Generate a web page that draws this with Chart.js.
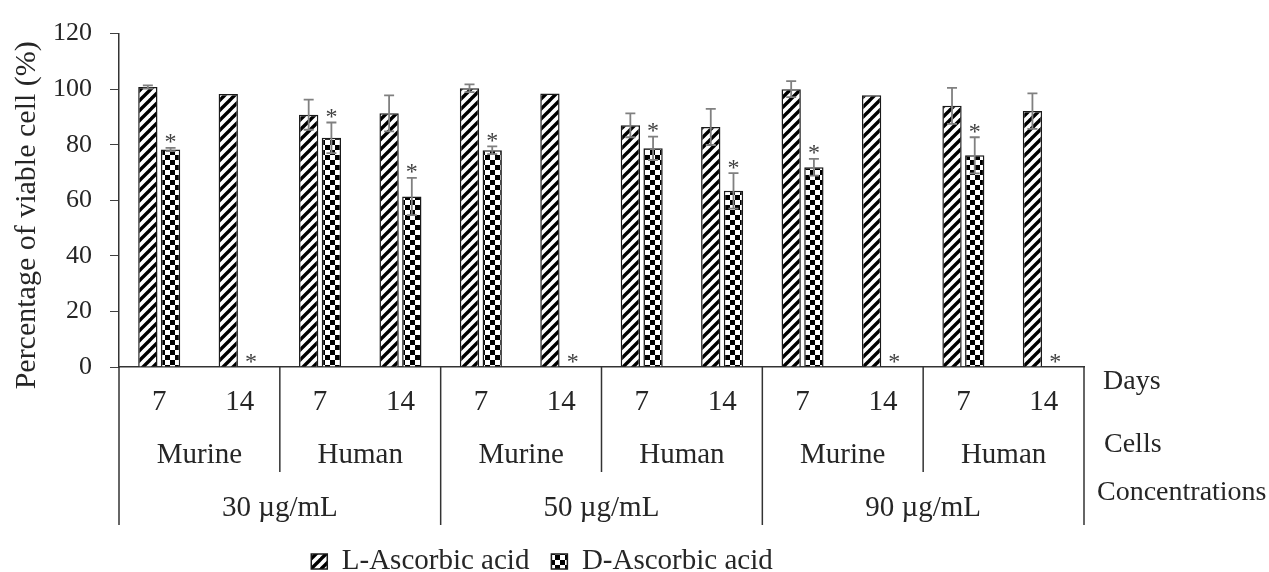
<!DOCTYPE html>
<html>
<head>
<meta charset="utf-8">
<script src="https://cdn.jsdelivr.net/npm/chart.js@4.4.1/dist/chart.umd.min.js"></script>
<style>
  html, body { margin: 0; padding: 0; background: #fff; }
  #wrap { width: 1269px; height: 572px; }
</style>
</head>
<body>
<div id="wrap"><canvas id="myChart"></canvas></div>
<script>
// values
const days = ["7", "14", "7", "14", "7", "14", "7", "14", "7", "14", "7", "14"];
const cells = ["Murine", "Human", "Murine", "Human", "Murine", "Human"];
const concentrations = ["30 µg/mL", "50 µg/mL", "90 µg/mL"];
const rowTitles = ["Days", "Cells", "Concentrations"];

const lAscorbic = [100.8, 98.3, 90.8, 91.3, 100.3, 98.4, 87.0, 86.4, 100.0, 97.8, 94.0, 92.1];
const lError = [0.6, 0, 5.4, 6.5, 1.4, 0, 4.3, 6.5, 2.9, 0, 6.5, 6.4];
const dAscorbic = [78.3, 0, 82.5, 61.4, 78.0, 0, 78.7, 63.4, 71.9, 0, 76.2, 0];
const dError = [0.6, 0, 5.5, 6.7, 1.4, 0, 4.2, 6.4, 3.0, 0, 6.5, 0];
const dMarks = ["*", "*", "*", "*", "*", "*", "*", "*", "*", "*", "*", "*"];

const FONT = "'Liberation Serif', 'Times New Roman', serif";
const TEXT = "#262626";

function stripePattern() {
  const c = document.createElement("canvas");
  c.width = 10; c.height = 10;
  const g = c.getContext("2d");
  g.fillStyle = "#fff";
  g.fillRect(0, 0, 10, 10);
  g.strokeStyle = "#000";
  g.lineWidth = 3.4;
  [0, 10, 20].forEach(function (k) {
    g.beginPath();
    g.moveTo(k + 2, -2);
    g.lineTo(k - 12, 12);
    g.stroke();
  });
  return g.createPattern(c, "repeat");
}

function checkerPattern() {
  const c = document.createElement("canvas");
  c.width = 10; c.height = 10;
  const g = c.getContext("2d");
  g.fillStyle = "#fff";
  g.fillRect(0, 0, 10, 10);
  g.fillStyle = "#000";
  g.fillRect(0, 0, 5, 5);
  g.fillRect(5, 5, 5, 5);
  return g.createPattern(c, "repeat");
}

const errorBars = {
  id: "errorBars",
  afterDatasetsDraw(chart) {
    const ctx = chart.ctx;
    const y = chart.scales.y;
    const errs = [lError, dError];
    ctx.save();
    ctx.strokeStyle = "#808080";
    ctx.lineWidth = 1.8;
    chart.data.datasets.forEach(function (ds, di) {
      chart.getDatasetMeta(di).data.forEach(function (bar, i) {
        const e = errs[di][i];
        if (!e) return;
        const top = y.getPixelForValue(ds.data[i] + e);
        const bot = y.getPixelForValue(ds.data[i] - e);
        ctx.beginPath();
        ctx.moveTo(bar.x, top); ctx.lineTo(bar.x, bot);
        ctx.moveTo(bar.x - 5, top); ctx.lineTo(bar.x + 5, top);
        ctx.moveTo(bar.x - 5, bot); ctx.lineTo(bar.x + 5, bot);
        ctx.stroke();
      });
    });
    // significance marks over D-ascorbic bars
    ctx.fillStyle = "#404040";
    ctx.font = "24px " + FONT;
    ctx.textAlign = "center";
    ctx.textBaseline = "alphabetic";
    chart.getDatasetMeta(1).data.forEach(function (bar, i) {
      if (!dMarks[i]) return;
      const top = y.getPixelForValue(dAscorbic[i] + dError[i]);
      ctx.fillText(dMarks[i], bar.x, top + 1.5);
    });
    ctx.restore();
  }
};

const groupAxis = {
  id: "groupAxis",
  afterDraw(chart) {
    const ctx = chart.ctx;
    const x = chart.scales.x;
    const area = chart.chartArea;
    const b = area.bottom;
    const half = (x.getPixelForValue(1) - x.getPixelForValue(0)) / 2;
    const edge = function (i) { return i === days.length ? area.right : x.getPixelForValue(i) - half; };

    ctx.save();
    ctx.strokeStyle = "#333";
    ctx.lineWidth = 1.5;
    for (let i = 0; i <= days.length; i++) {
      let len = 0;
      if (i % 4 === 0) len = 158;
      else if (i % 2 === 0) len = 105;
      if (!len) continue;
      ctx.beginPath();
      ctx.moveTo(edge(i), b);
      ctx.lineTo(edge(i), b + len);
      ctx.stroke();
    }

    ctx.fillStyle = TEXT;
    ctx.font = "29px " + FONT;
    ctx.textAlign = "center";
    ctx.textBaseline = "alphabetic";
    days.forEach(function (d, i) {
      ctx.fillText(d, x.getPixelForValue(i), b + 43);
    });
    cells.forEach(function (c, i) {
      ctx.fillText(c, (edge(2 * i) + edge(2 * i + 2)) / 2, b + 96);
    });
    concentrations.forEach(function (c, i) {
      ctx.fillText(c, (edge(4 * i) + edge(4 * i + 4)) / 2, b + 149);
    });

    // row names to the right of the axis
    ctx.font = "28px " + FONT;
    ctx.textAlign = "left";
    const titleY = [22, 85, 133];
    const titleX = [19, 20, 13];
    rowTitles.forEach(function (t, i) {
      ctx.fillText(t, area.right + titleX[i], b + titleY[i]);
    });
    ctx.restore();
  }
};

Chart.defaults.font.family = FONT;
Chart.defaults.color = TEXT;

const ctx = document.getElementById("myChart").getContext("2d");
const myChart = new Chart(ctx, {
  type: "bar",
  data: {
    labels: days,
    datasets: [
      {
        label: "L-Ascorbic acid",
        data: lAscorbic,
        backgroundColor: stripePattern(),
        borderColor: "#1a1a1a",
        borderWidth: 1.5,
        categoryPercentage: 0.565,
        barPercentage: 0.85
      },
      {
        label: "D-Ascorbic acid",
        data: dAscorbic,
        backgroundColor: checkerPattern(),
        borderColor: "#1a1a1a",
        borderWidth: 1.5,
        categoryPercentage: 0.565,
        barPercentage: 0.85
      }
    ]
  },
  options: {
    responsive: true,
    maintainAspectRatio: false,
    animation: false,
    layout: { padding: { left: 0, right: 185, top: 31, bottom: -14 } },
    plugins: {
      tooltip: { enabled: false },
      legend: {
        position: "bottom",
        labels: {
          font: { size: 29, family: FONT },
          color: TEXT,
          boxWidth: 16,
          boxHeight: 15,
          padding: 22
        }
      }
    },
    scales: {
      x: {
        grid: { display: false },
        border: { display: true, color: "#333", width: 1.5 },
        ticks: { display: false },
        afterFit(scale) { scale.height = 158; }
      },
      y: {
        min: 0,
        max: 120,
        ticks: { stepSize: 20, padding: 18, font: { size: 26 }, color: TEXT },
        grid: { drawOnChartArea: false, drawTicks: true, tickLength: 9, color: "#404040", lineWidth: 1 },
        border: { display: true, color: "#333", width: 1.5 },
        title: {
          display: true,
          text: "Percentage of viable cell (%)\u00a0\u00a0\u00a0\u00a0",
          font: { size: 30 },
          color: TEXT,
          padding: { top: 9, bottom: 0 }
        },
        afterFit(scale) { scale.width = 119; }
      }
    }
  },
  plugins: [errorBars, groupAxis]
});
</script>
</body>
</html>
